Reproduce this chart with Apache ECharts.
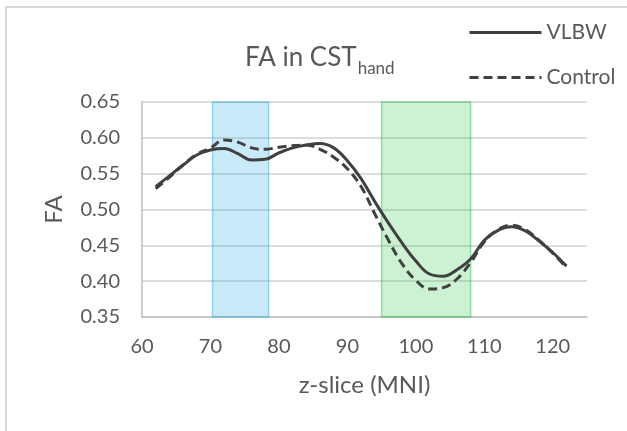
<!DOCTYPE html>
<html>
<head>
<meta charset="utf-8">
<script src="https://cdn.jsdelivr.net/npm/echarts@6/dist/echarts.min.js"></script>
<style>html,body{margin:0;padding:0;background:#fff;}#c{width:627px;height:431px;}</style>
</head>
<body>
<div id="c"></div>
<script>
const zSlices = [62,64,66,68,70,72,74,76,78,80,82,84,86,88,90,92,94,96,98,100,102,104,106,108,110,112,114,116,118,120,122];
const vlbw = [0.532,0.547,0.562,0.576,0.583,0.585,0.578,0.569,0.570,0.579,0.586,0.590,0.592,0.586,0.568,0.543,0.511,0.481,0.453,0.428,0.410,0.407,0.416,0.431,0.457,0.471,0.476,0.470,0.456,0.440,0.421];
const control = [0.529,0.545,0.562,0.577,0.586,0.597,0.594,0.586,0.584,0.587,0.589,0.590,0.584,0.573,0.557,0.532,0.494,0.457,0.424,0.401,0.389,0.391,0.403,0.426,0.455,0.472,0.478,0.472,0.457,0.439,0.419];
const blueBand = [70.3, 78.5];
const greenBand = [95, 108];
const seriesNames = ['VLBW', 'Control'];
const titleMain = 'FA in CST';
const titleSub = 'hand';
const xName = 'z-slice (MNI)';
const yName = 'FA';

const FONT = 'Lato';
const TXT = '#595959';
const chart = echarts.init(document.getElementById('c'), null, {renderer: 'canvas'});
chart.setOption({
  backgroundColor: '#ffffff',
  animation: false,
  title: {
    text: '{a|' + titleMain + '}{b|' + titleSub + '}',
    left: 240, top: 36,
    textStyle: {
      fontWeight: 'normal',
      rich: {
        a: {fontFamily: FONT, fontSize: 26, fontWeight: 'normal', color: TXT, lineHeight: 30, verticalAlign: 'bottom'},
        b: {fontFamily: FONT, fontSize: 17, fontWeight: 'normal', color: TXT, lineHeight: 30, verticalAlign: 'bottom', padding: [0,0,-6,1]}
      }
    }
  },
  legend: {
    orient: 'vertical', left: 463, top: 17,
    itemWidth: 72, itemHeight: 24, itemGap: 24,
    itemStyle: {opacity: 0},
    lineStyle: {width: 3},
    textStyle: {fontFamily: FONT, fontSize: 21, color: TXT, padding: [0,0,0,0]},
    data: seriesNames
  },
  graphic: [{
    type: 'rect', silent: true, z: -10,
    shape: {x: 6, y: 7, width: 700, height: 500},
    style: {fill: 'none', stroke: '#d9d9d9', lineWidth: 2}
  }],
  grid: {left: 142, right: 40, top: 102, bottom: 114},
  xAxis: {
    type: 'value', min: 60, max: 125, interval: 10,
    name: xName, nameLocation: 'middle', nameGap: 56,
    nameTextStyle: {fontFamily: FONT, fontSize: 24, color: TXT},
    axisLine: {show: true, lineStyle: {color: '#bfbfbf', width: 1.5}},
    axisTick: {show: false},
    splitLine: {show: false},
    axisLabel: {fontFamily: FONT, fontSize: 20, color: TXT, margin: 20, showMaxLabel: false}
  },
  yAxis: {
    type: 'value', min: 0.35, max: 0.65, interval: 0.05,
    name: yName, nameLocation: 'middle', nameGap: 76, nameRotate: 90,
    nameTextStyle: {fontFamily: FONT, fontSize: 24, color: TXT},
    axisLine: {show: true, lineStyle: {color: '#bfbfbf', width: 1.5}},
    axisTick: {show: false},
    splitLine: {show: true, lineStyle: {color: '#d0d0d0', width: 1.5}},
    axisLabel: {fontFamily: FONT, fontSize: 20, color: TXT, margin: 22, formatter: v => v.toFixed(2)}
  },
  series: [{
    name: seriesNames[0], type: 'line', smooth: 0.4, symbol: 'none',
    lineStyle: {color: '#404040', width: 3},
    itemStyle: {color: '#404040'},
    data: zSlices.map((x, i) => [x, vlbw[i]]),
    z: 5,
    markArea: {
      silent: true,
      data: [
        [{xAxis: blueBand[0], itemStyle: {color: 'rgba(40,175,230,0.25)', borderColor: 'rgba(40,170,230,0.45)', borderWidth: 1.5}}, {xAxis: blueBand[1]}],
        [{xAxis: greenBand[0], itemStyle: {color: 'rgba(50,200,80,0.25)', borderColor: 'rgba(40,190,70,0.45)', borderWidth: 1.5}}, {xAxis: greenBand[1]}]
      ]
    }
  }, {
    name: seriesNames[1], type: 'line', smooth: 0.4, symbol: 'none',
    lineStyle: {color: '#404040', width: 3, type: [9, 5]},
    itemStyle: {color: '#404040'},
    data: zSlices.map((x, i) => [x, control[i]]),
    z: 5
  }]
});
</script>
</body>
</html>
